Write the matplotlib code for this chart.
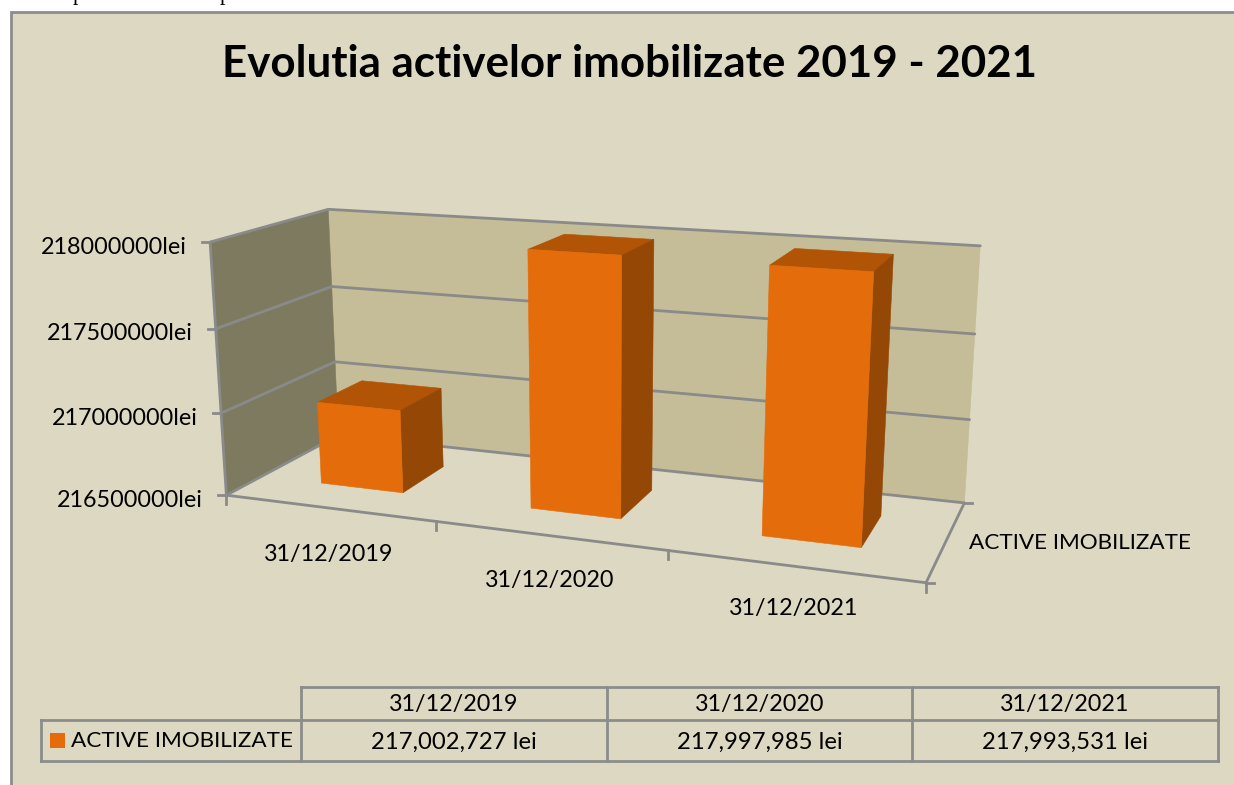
import numpy as np
import matplotlib
matplotlib.use("Agg")
import matplotlib.pyplot as plt
from matplotlib.patches import Polygon, Rectangle

W, H = 1234, 785
categories = ["31/12/2019", "31/12/2020", "31/12/2021"]
series_name = "ACTIVE IMOBILIZATE"
values = [217002727, 217997985, 217993531]
value_labels = ["217,002,727 lei", "217,997,985 lei", "217,993,531 lei"]
y_ticks = [216500000, 217000000, 217500000, 218000000]
title = "Evolutia activelor imobilizate 2019 - 2021"

BG = "#DDD8C1"; BACK = "#C4BD97"; SIDEW = "#7D7A60"; GRID = "#8A8A8A"; BORDER = "#8C8C8C"
FRONT = "#E46C0A"; TOP = "#B25406"; SIDE = "#954806"
FONT = "Lato"
LW = 2.0
FS = 16.2
FS_DIGITS = 16.85
FS_VALUES = 17.2

# camera calibration: (band, depth, level) -> pixel of the frame corners
calib = [
 (0,0,1,210,242),(0,0,2/3,216,329),(0,0,1/3,221,413),(0,0,0,226,495),
 (0,1,1,328,209),(0,1,2/3,332,287),(0,1,1/3,335,362),
 (3,1,1,980,246),(3,1,2/3,975,334),(3,1,1/3,970,419),(3,1,0,964,503),
 (3,0,0,926,583),(1,0,0,437,521),(2,0,0,668,551),
]
A=[]
for x,y,z,u,v in calib:
    A.append([x,y,z,1,0,0,0,0,-u*x,-u*y,-u*z,-u])
    A.append([0,0,0,0,x,y,z,1,-v*x,-v*y,-v*z,-v])
P=np.linalg.svd(np.array(A,float))[2][-1].reshape(3,4)

def proj(x,y,z):
    p=P@np.array([x,y,z,1.0])
    return p[0]/p[2],p[1]/p[2]

def level(v):
    return (v-y_ticks[0])/(y_ticks[-1]-y_ticks[0])

fig=plt.figure(figsize=(W/100,H/100),dpi=100,facecolor="white")
ax=fig.add_axes([0,0,1,1]); ax.set_xlim(0,W); ax.set_ylim(H,0); ax.axis("off")
ax.add_patch(Rectangle((11,12),W,H,facecolor=BG,edgecolor=BORDER,lw=LW))
for xx in (78,225):
    ax.text(xx,0,"p",family="Liberation Serif",fontsize=16,ha="center",va="baseline",color="black")

def poly(pts,fc,z=2):
    ax.add_patch(Polygon([proj(*p) for p in pts],closed=True,facecolor=fc,edgecolor=fc,lw=0.4,zorder=z))
def line(a,b,z=3):
    pa,pb=proj(*a),proj(*b)
    ax.plot([pa[0],pb[0]],[pa[1],pb[1]],color=GRID,lw=LW,zorder=z,solid_capstyle="round")

poly([(0,1,0),(3,1,0),(3,1,1),(0,1,1)],BACK)
poly([(0,0,0),(0,1,0),(0,1,1),(0,0,1)],SIDEW)
for t in y_ticks:
    l=level(t)
    line((0,0,l),(0,1,l)); line((0,1,l),(3,1,l))
    px,py=proj(0,0,l)
    ax.plot([px-8,px],[py,py],color=GRID,lw=LW,zorder=3)
    ax.text(px-23,py+5,f"{t}lei",family=FONT,fontsize=FS_DIGITS,ha="right",va="center",color="black")
line((0,0,0),(0,0,1)); line((0,0,0),(3,0,0)); line((3,0,0),(3,1,0))
for i in range(4):
    px,py=proj(i,0,0)
    ax.plot([px,px],[py,py+9],color=GRID,lw=LW,zorder=3)
for y_ in (0,1):
    px,py=proj(3,y_,0)
    ax.plot([px,px+8],[py,py],color=GRID,lw=LW,zorder=3)

GAP=0.30; D0=0.295; D1=0.705
for i,v in enumerate(values):
    x0,x1=i+GAP,i+1-GAP; z=level(v)
    poly([(x0,D0,z),(x1,D0,z),(x1,D1,z),(x0,D1,z)],TOP,5)
    poly([(x1,D0,0),(x1,D1,0),(x1,D1,z),(x1,D0,z)],SIDE,5)
    poly([(x0,D0,0),(x1,D0,0),(x1,D0,z),(x0,D0,z)],FRONT,6)
    px,py=proj(i+.5,0,0)
    ax.text(px,py+46.5-2*i,categories[i],family=FONT,fontsize=FS_DIGITS,ha="center",va="center",color="black")
ax.text(969,543,series_name,family=FONT,fontsize=FS,ha="left",va="center",color="black")
ax.text(629,64,title,family=FONT,fontsize=31.6,fontweight="bold",ha="center",va="center",color="black")

# data table
cols=[301,607,912,1218]; rows=[687,720,761]; left=41
for xx in cols:
    ax.plot([xx,xx],[rows[0],rows[2]],color=BORDER,lw=LW)
ax.plot([cols[0],cols[-1]],[rows[0],rows[0]],color=BORDER,lw=LW)
ax.plot([left,cols[-1]],[rows[1],rows[1]],color=BORDER,lw=LW)
ax.plot([left,cols[-1]],[rows[2],rows[2]],color=BORDER,lw=LW)
ax.plot([left,left],[rows[1],rows[2]],color=BORDER,lw=LW)
ax.add_patch(Rectangle((50,733),15,15,facecolor=FRONT,edgecolor="none"))
ax.text(71,741,series_name,family=FONT,fontsize=FS,ha="left",va="center",color="black")
for i in range(3):
    c=(cols[i]+cols[i+1])/2
    ax.text(c,705,categories[i],family=FONT,fontsize=FS_DIGITS,ha="center",va="center",color="black")
    ax.text(c,742,value_labels[i],family=FONT,fontsize=FS_VALUES,ha="center",va="center",color="black")
fig.savefig("out.png",dpi=100)
